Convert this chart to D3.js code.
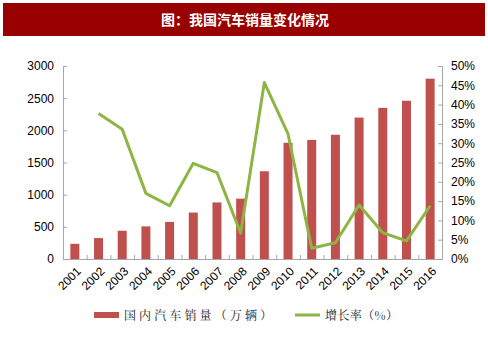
<!DOCTYPE html>
<html><head><meta charset="utf-8">
<script src="https://cdn.jsdelivr.net/npm/d3@7"></script>
<style>body{margin:0;background:#fff}svg{display:block}</style>
</head><body>
<svg id="c" width="488" height="337"></svg>
<script>
const years = ["2001","2002","2003","2004","2005","2006","2007","2008","2009","2010","2011","2012","2013","2014","2015","2016"];
const sales = [236,325,439,507,576,722,879,938,1364,1806,1851,1931,2198,2349,2460,2803];
const growth = [null,37.7,33.6,17.0,13.8,24.8,22.4,6.7,45.7,32.4,2.8,4.2,14.0,6.8,4.7,13.8];
const leftTicks = [0,500,1000,1500,2000,2500,3000];
const rightTicks = [0,5,10,15,20,25,30,35,40,45,50];
const title = "图：我国汽车销量变化情况";
const legendLabels = ["国内汽车销量（万辆）","增长率（%）"];

const svg = d3.select("#c");
const L = 63, R = 442, T = 66, B = 259;
const axisColor = "#a6a6a6";
const barColor = "#c0504d", lineColor = "#8db543";

svg.append("rect").attr("x",3).attr("y",3).attr("width",482).attr("height",33).attr("fill","#990000");
svg.append("text").attr("x",245).attr("y",25).attr("text-anchor","middle")
  .attr("fill","#fff").attr("font-weight","bold").attr("font-size",14)
  .attr("font-family","'Noto Sans CJK SC',sans-serif").text(title);

const x = d3.scaleBand().domain(years).range([L,R]).paddingInner(0.62).paddingOuter(0.31);
const y = d3.scaleLinear().domain([0,3000]).range([B,T]);
const y2 = d3.scaleLinear().domain([0,50]).range([B,T]);

svg.selectAll(".bar").data(years).join("rect")
  .attr("x",d=>x(d)).attr("width",x.bandwidth())
  .attr("y",(d,i)=>y(sales[i])).attr("height",(d,i)=>B-y(sales[i]))
  .attr("fill",barColor);

const line = d3.line().defined(d=>d.v!=null).x(d=>x(d.k)+x.bandwidth()/2).y(d=>y2(d.v));
svg.append("path").datum(years.map((k,i)=>({k,v:growth[i]})))
  .attr("d",line).attr("fill","none").attr("stroke",lineColor).attr("stroke-width",3)
  .attr("stroke-linejoin","round");

const font = "'Liberation Sans',Arial,sans-serif";
const ya = svg.append("g").attr("transform",`translate(${L},0)`)
  .call(d3.axisLeft(y).tickValues(leftTicks).tickSize(-4).tickPadding(9).tickFormat(d3.format("d")));
const yb = svg.append("g").attr("transform",`translate(${R},0)`)
  .call(d3.axisRight(y2).tickValues(rightTicks).tickSize(-4).tickPadding(9).tickFormat(d=>d+"%"));
const xa = svg.append("g").attr("transform",`translate(0,${B})`)
  .call(d3.axisBottom(d3.scaleLinear().domain([0,years.length]).range([L,R]))
    .tickValues(d3.range(0,years.length+1)).tickSize(-4).tickFormat(""));
[ya,yb,xa].forEach(g=>{
  g.select(".domain").attr("stroke",axisColor);
  g.selectAll(".tick line").attr("stroke",axisColor);
  g.selectAll("text").attr("font-family",font).attr("font-size",12).attr("fill","#000");
});
svg.append("g").selectAll("text").data(years).join("text")
  .attr("transform",d=>`translate(${x(d)+x.bandwidth()/2+4},${B+10}) rotate(-45)`)
  .attr("text-anchor","end").attr("dy","0.35em")
  .attr("font-family",font).attr("font-size",12).text(d=>d);

const lg = svg.append("g").attr("font-family","'Noto Serif CJK SC','Noto Sans CJK SC',serif").attr("font-size",12).attr("fill","#222");
lg.append("rect").attr("x",94).attr("y",312).attr("width",25).attr("height",6).attr("fill",barColor);
lg.append("text").attr("x",124).attr("y",320).attr("textLength",148).attr("lengthAdjust","spacing").text(legendLabels[0]);
lg.append("line").attr("x1",295).attr("x2",320).attr("y1",315).attr("y2",315).attr("stroke",lineColor).attr("stroke-width",3);
lg.append("text").attr("x",325).attr("y",320).attr("textLength",73).attr("lengthAdjust","spacing").text(legendLabels[1]);
</script>
</body></html>
